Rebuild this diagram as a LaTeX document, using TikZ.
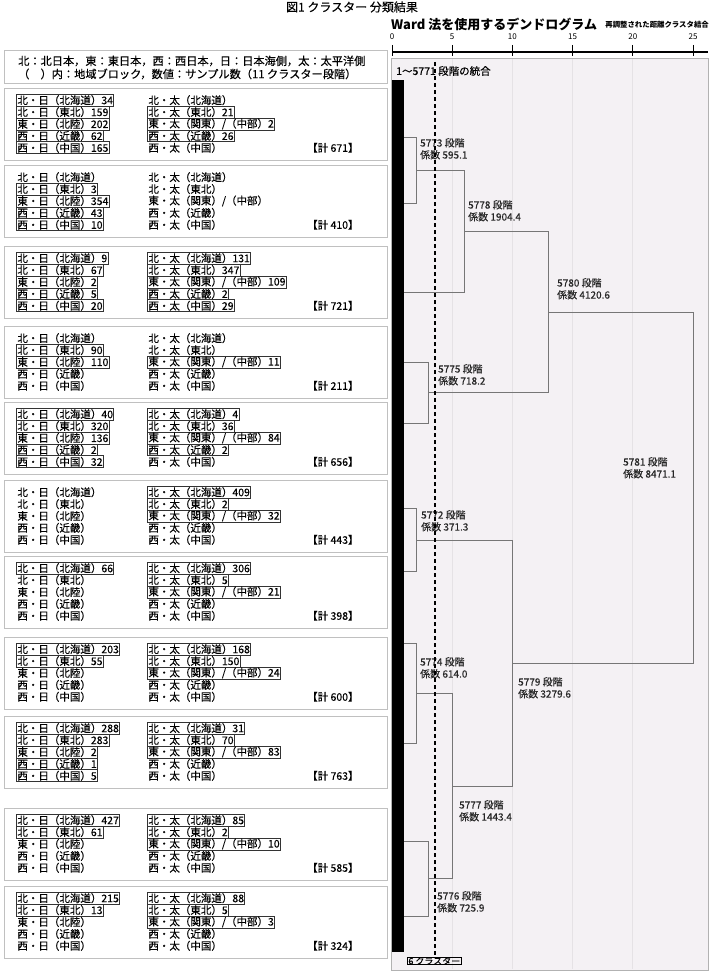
\documentclass[tikz,border=0pt]{standalone}
\usepackage{fontspec}
\setmainfont{Noto Sans CJK JP}
\newfontfamily\jpfont{Noto Sans CJK JP}[FakeBold=0.3]
\usetikzlibrary{positioning}
\definecolor{framegray}{RGB}{192,192,192}
\definecolor{panelbg}{RGB}{244,241,244}
\definecolor{gridgray}{RGB}{229,226,229}
\definecolor{treegray}{RGB}{118,118,118}
\colorlet{hl}{black!80}
\tikzset{
  cluster frame/.style={draw=framegray, line width=1.3pt, inner sep=0pt, anchor=north west},
  entry/.style={anchor=west, inner xsep=0.8pt, inner ysep=0pt, minimum height=11.9pt,
    line width=0.8pt, font=\jpfont\fontsize{10.5}{11.9}\selectfont},
  merge label/.style={anchor=north west, inner sep=0pt, align=left, text=black!85,
    font=\jpfont\fontsize{10}{12}\selectfont},
  tree/.style={draw=treegray, line width=0.9pt},
  cut line/.style={line width=1.2pt, dash pattern=on 4pt off 3pt},
  scale label/.style={inner sep=0pt, font=\fontsize{8}{9}\selectfont}
}
% one cluster panel: #1 id, #2 top, #3 total, #4 left column, #5 right column
\newcommand{\clusterbox}[5]{%
  \node[cluster frame, minimum width=383pt, minimum height=72pt] (c#1) at (4,#2) {};
  \foreach \col/\txt [count=\i] in {#4}
    \node[entry, draw=\col] (c#1l\i) at (16.2,{#2+0.3+11.9*\i}) {\txt};
  \foreach \col/\txt [count=\i] in {#5}
    \node[entry, draw=\col] (c#1r\i) at (147.2,{#2+0.3+11.9*\i}) {\txt};
  \node[entry] (c#1t) at (306,{#2+0.3+11.9*5}) {【計 #3】};
}

\begin{document}
\begin{tikzpicture}[x=1pt, y=-1pt]
  \useasboundingbox (0,0) rectangle (711,974);

  \node[font=\jpfont\fontsize{12}{12}\selectfont, inner sep=0pt] (title) at (352,7) {図1 クラスター 分類結果};

  % legend
  \node[cluster frame, minimum width=383pt, minimum height=33pt] (legend) at (4,50) {};
  \node[anchor=west, inner sep=0pt, font=\jpfont\fontsize{11.2}{12}\selectfont] (legend1) at (18,61)
    {北：北日本，東：東日本，西：西日本，日：日本海側，太：太平洋側};
  \node[anchor=west, inner sep=0pt, font=\jpfont\fontsize{11.2}{12}\selectfont] (legend2) at (18,74)
    {（　）内：地域ブロック，数値：サンプル数（11 クラスター段階）};

  % clusters
  \clusterbox{1}{88}{671}
    {hl/{北・日（北海道）34}, hl/{北・日（東北）159}, hl/{東・日（北陸）202}, hl/{西・日（近畿）62}, hl/{西・日（中国）165}}
    {none/{北・太（北海道）}, hl/{北・太（東北）21}, hl/{東・太（関東）/（中部）2}, hl/{西・太（近畿）26}, none/{西・太（中国）}}
  \clusterbox{2}{165}{410}
    {none/{北・日（北海道）}, hl/{北・日（東北）3}, hl/{東・日（北陸）354}, hl/{西・日（近畿）43}, hl/{西・日（中国）10}}
    {none/{北・太（北海道）}, none/{北・太（東北）}, none/{東・太（関東）/（中部）}, none/{西・太（近畿）}, none/{西・太（中国）}}
  \clusterbox{3}{246}{721}
    {hl/{北・日（北海道）9}, hl/{北・日（東北）67}, hl/{東・日（北陸）2}, hl/{西・日（近畿）5}, hl/{西・日（中国）20}}
    {hl/{北・太（北海道）131}, hl/{北・太（東北）347}, hl/{東・太（関東）/（中部）109}, hl/{西・太（近畿）2}, hl/{西・太（中国）29}}
  \clusterbox{4}{326}{211}
    {none/{北・日（北海道）}, hl/{北・日（東北）90}, hl/{東・日（北陸）110}, none/{西・日（近畿）}, none/{西・日（中国）}}
    {none/{北・太（北海道）}, none/{北・太（東北）}, hl/{東・太（関東）/（中部）11}, none/{西・太（近畿）}, none/{西・太（中国）}}
  \clusterbox{5}{402}{656}
    {hl/{北・日（北海道）40}, hl/{北・日（東北）320}, hl/{東・日（北陸）136}, hl/{西・日（近畿）2}, hl/{西・日（中国）32}}
    {hl/{北・太（北海道）4}, hl/{北・太（東北）36}, hl/{東・太（関東）/（中部）84}, hl/{西・太（近畿）2}, none/{西・太（中国）}}
  \clusterbox{6}{480}{443}
    {none/{北・日（北海道）}, none/{北・日（東北）}, none/{東・日（北陸）}, none/{西・日（近畿）}, none/{西・日（中国）}}
    {hl/{北・太（北海道）409}, hl/{北・太（東北）2}, hl/{東・太（関東）/（中部）32}, none/{西・太（近畿）}, none/{西・太（中国）}}
  \clusterbox{7}{556}{398}
    {hl/{北・日（北海道）66}, none/{北・日（東北）}, none/{東・日（北陸）}, none/{西・日（近畿）}, none/{西・日（中国）}}
    {hl/{北・太（北海道）306}, hl/{北・太（東北）5}, hl/{東・太（関東）/（中部）21}, none/{西・太（近畿）}, none/{西・太（中国）}}
  \clusterbox{8}{637}{600}
    {hl/{北・日（北海道）203}, hl/{北・日（東北）55}, none/{東・日（北陸）}, none/{西・日（近畿）}, none/{西・日（中国）}}
    {hl/{北・太（北海道）168}, hl/{北・太（東北）150}, hl/{東・太（関東）/（中部）24}, none/{西・太（近畿）}, none/{西・太（中国）}}
  \clusterbox{9}{716}{763}
    {hl/{北・日（北海道）288}, hl/{北・日（東北）283}, hl/{東・日（北陸）2}, hl/{西・日（近畿）1}, hl/{西・日（中国）5}}
    {hl/{北・太（北海道）31}, hl/{北・太（東北）70}, hl/{東・太（関東）/（中部）83}, none/{西・太（近畿）}, none/{西・太（中国）}}
  \clusterbox{10}{808}{585}
    {hl/{北・日（北海道）427}, hl/{北・日（東北）61}, none/{東・日（北陸）}, none/{西・日（近畿）}, none/{西・日（中国）}}
    {hl/{北・太（北海道）85}, hl/{北・太（東北）2}, hl/{東・太（関東）/（中部）10}, none/{西・太（近畿）}, none/{西・太（中国）}}
  \clusterbox{11}{886}{324}
    {hl/{北・日（北海道）215}, hl/{北・日（東北）13}, none/{東・日（北陸）}, none/{西・日（近畿）}, none/{西・日（中国）}}
    {hl/{北・太（北海道）88}, hl/{北・太（東北）5}, hl/{東・太（関東）/（中部）3}, none/{西・太（近畿）}, none/{西・太（中国）}}

  % dendrogram header
  \node[anchor=west, inner sep=0pt, font=\bfseries\fontsize{13}{13}\selectfont] (wardtitle) at (391,24)
    {Ward 法を使用するデンドログラム};
  \node[anchor=east, inner sep=0pt, font=\bfseries\fontsize{7.4}{8}\selectfont] (wardsub) at (709,25)
    {再調整された距離クラスタ結合};

  % dendrogram panel
  \filldraw[fill=panelbg, draw=black!30, line width=0.8pt] (391,58) rectangle (708,970);

  \begin{scope}[shift={(392,0)}, x=12.04pt]
    \foreach \u in {5,10,15,20}
      \draw[gridgray, line width=0.8pt] (\u,59) -- (\u,969);
    \draw[line width=1.1pt] (0,52) -- (26.25,52);
    \foreach \u in {0,5,...,25} {
      \draw[line width=0.9pt] (\u,45) -- (\u,56);
      \node[scale label] (tick\u) at (\u,37) {\u};
    }
    \fill (0,80) rectangle (1,952);
    % merges, leaves at x=1
    \draw[tree] (1,137) -| (2,203) -- (1,203);
    \draw[tree] (2,170) -| (6,292) -- (1,292);
    \draw[tree] (1,362) -| (3,423) -- (1,423);
    \draw[tree] (6,231) -| (13,392) -- (3,392);
    \draw[tree] (13,312) -| (25,663) -- (10,663);
    \draw[tree] (1,508) -| (2,571) -- (1,571);
    \draw[tree] (2,540) -| (10,786) -- (5,786);
    \draw[tree] (1,643) -| (2,743) -- (1,743);
    \draw[tree] (2,693) -| (5,878) -- (3,878);
    \draw[tree] (1,841) -| (3,916) -- (1,916);
  \end{scope}

  \node[anchor=west, inner sep=0pt, font=\jpfont\fontsize{10.5}{11}\selectfont] (stages) at (396,71) {1～5771 段階の統合};

  \node[merge label] (m5773) at (420,138) {5773 段階\\係数 595.1};
  \node[merge label] (m5778) at (468,200) {5778 段階\\係数 1904.4};
  \node[merge label] (m5780) at (557,278) {5780 段階\\係数 4120.6};
  \node[merge label] (m5775) at (438,364) {5775 段階\\係数 718.2};
  \node[merge label] (m5781) at (623,457) {5781 段階\\係数 8471.1};
  \node[merge label] (m5772) at (421,510) {5772 段階\\係数 371.3};
  \node[merge label] (m5774) at (420,657) {5774 段階\\係数 614.0};
  \node[merge label] (m5779) at (518,677) {5779 段階\\係数 3279.6};
  \node[merge label] (m5777) at (459,800) {5777 段階\\係数 1443.4};
  \node[merge label] (m5776) at (437,891) {5776 段階\\係数 725.9};

  \draw[cut line] (435,62) -- (435,955);
  \node[draw, anchor=west, inner xsep=1pt, inner ysep=0pt, line width=0.8pt,
    font=\jpfont\fontsize{9}{10}\selectfont] (six) at (407,961) {6 クラスター};
\end{tikzpicture}
\end{document}
